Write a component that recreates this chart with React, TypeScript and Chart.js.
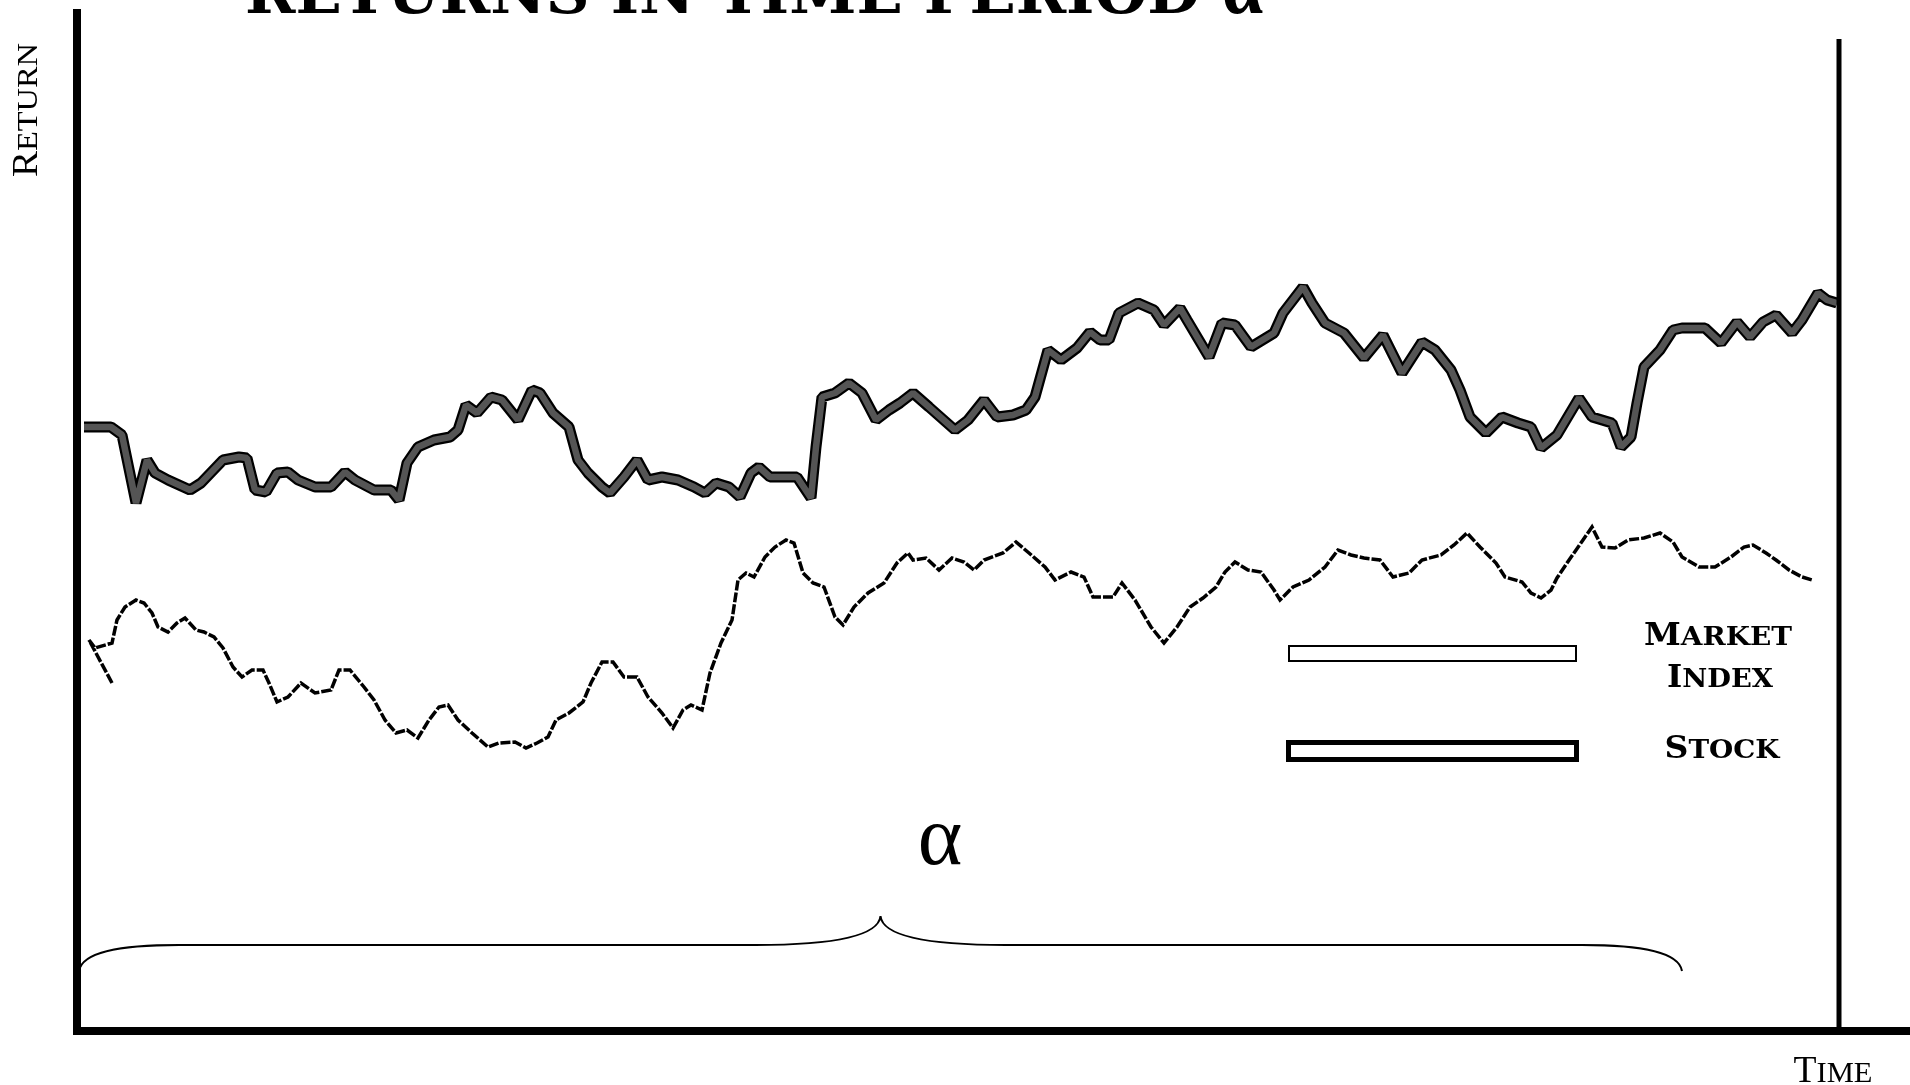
import React, { useEffect, useRef } from "react";
import { Chart, registerables } from "chart.js";

Chart.register(...registerables);

// ---------------- data ----------------
const stockTime = [
  0.7, 3.4, 4.5, 5.9, 7.0, 7.8, 9.1, 11.3, 12.4, 14.6,
  16.2, 17.0, 17.8, 18.9, 20.0, 21.1, 22.1, 23.8, 25.4, 26.8,
  27.8, 29.7, 31.4, 32.2, 33.0, 34.1, 35.7, 37.3, 38.1, 38.9,
  40.0, 41.4, 42.5, 44.1, 45.5, 46.3, 47.6, 49.2, 50.1, 51.1,
  52.5, 53.3, 54.7, 56.0, 57.1, 58.5, 60.1, 61.7, 62.8, 63.9,
  65.2, 66.3, 67.4, 68.2, 69.3, 70.9, 72.0, 73.4, 73.9, 74.5,
  75.8, 77.2, 78.5, 79.9, 81.2, 82.3, 83.6, 85.2, 87.8, 89.1,
  90.7, 92.0, 93.6, 94.9, 95.8, 97.1, 98.4, 100.0, 101.3, 102.3,
  103.2, 104.2, 106.1, 107.7, 108.7, 110.3, 111.0, 113.2, 114.5, 115.8,
  117.4, 119.7, 120.6, 122.6, 123.5, 124.8, 126.7, 128.7, 130.6, 132.5,
  134.5, 135.8, 137.4, 138.3, 139.3, 140.9, 142.5, 144.1, 145.4, 146.4,
  148.0, 150.2, 151.5, 153.5, 154.4, 155.4, 156.0, 156.7, 158.3, 159.6,
  160.5, 162.8, 164.4, 166.0, 167.3, 168.6, 169.9, 171.5, 172.5, 174.1,
  175.0, 176.0,
];
const stockReturn = [
  60.4, 60.4, 59.6, 52.8, 57.1, 55.8, 55.1, 54.1, 54.8, 57.1,
  57.4, 57.3, 54.1, 53.9, 55.8, 55.9, 55.1, 54.4, 54.4, 55.9,
  55.1, 54.1, 54.1, 53.1, 56.8, 58.4, 59.1, 59.4, 60.1, 62.6,
  61.8, 63.4, 63.1, 61.1, 64.1, 63.8, 61.8, 60.4, 57.1, 55.8,
  54.4, 53.8, 55.4, 57.1, 55.1, 55.4, 55.1, 54.4, 53.8, 54.8,
  54.4, 53.4, 55.8, 56.4, 55.4, 55.4, 55.4, 53.3, 58.4, 63.4,
  63.8, 64.8, 63.8, 61.1, 62.1, 62.8, 63.8, 62.4, 60.1, 61.1,
  63.1, 61.4, 61.6, 62.1, 63.4, 68.1, 67.1, 68.3, 69.9, 69.1,
  69.1, 71.8, 72.8, 72.1, 70.6, 72.3, 71.1, 67.4, 70.8, 70.6,
  68.4, 69.8, 71.8, 74.4, 72.8, 70.8, 69.8, 67.3, 69.6, 65.8,
  68.9, 68.1, 66.1, 64.1, 61.4, 59.8, 61.4, 60.8, 60.4, 58.3,
  59.6, 63.3, 61.4, 60.8, 58.4, 59.4, 62.8, 66.4, 68.1, 70.1,
  70.3, 70.3, 68.8, 70.9, 69.4, 70.9, 71.6, 69.8, 71.1, 73.8,
  73.1, 72.8,
];
const marketTime = [
  3.5, 1.2, 1.8, 3.5, 4.0, 4.8, 5.9, 6.7, 7.5, 8.1,
  9.1, 10.0, 10.8, 11.9, 12.7, 13.7, 14.6, 15.6, 16.5, 17.5,
  18.6, 19.2, 20.0, 21.1, 22.4, 23.8, 25.4, 26.2, 27.3, 28.7,
  29.7, 30.8, 31.9, 33.0, 34.1, 35.2, 36.2, 37.1, 38.1, 39.5,
  41.1, 42.2, 43.8, 44.9, 46.0, 47.1, 47.9, 49.2, 50.6, 51.4,
  52.5, 53.6, 54.7, 56.0, 57.1, 58.5, 59.6, 60.6, 61.4, 62.5,
  63.3, 64.4, 65.5, 66.1, 66.9, 67.7, 68.8, 69.8, 70.9, 71.7,
  72.6, 73.6, 74.7, 75.8, 76.6, 77.7, 79.1, 80.7, 82.0, 83.1,
  83.6, 84.9, 86.2, 87.5, 88.7, 89.7, 90.7, 92.6, 93.9, 95.2,
  96.8, 97.8, 99.4, 100.7, 101.6, 103.6, 104.5, 105.8, 107.4, 108.7,
  110.0, 111.3, 112.6, 113.9, 114.8, 115.8, 117.1, 118.4, 119.7, 120.3,
  121.6, 123.2, 124.8, 126.1, 127.4, 128.7, 130.3, 131.6, 133.2, 134.5,
  136.4, 137.7, 139.0, 140.3, 141.9, 142.8, 144.5, 145.4, 146.4, 147.4,
  148.0, 149.0, 150.6, 151.5, 152.5, 153.8, 155.1, 156.7, 158.3, 159.6,
  160.5, 162.2, 163.8, 165.4, 166.7, 167.6, 168.9, 169.9, 171.2, 172.5,
  173.5,
];
const marketReturn = [
  34.8, 39.1, 38.3, 38.8, 41.1, 42.4, 43.1, 42.8, 41.8, 40.4,
  39.9, 40.8, 41.3, 40.1, 39.9, 39.4, 38.3, 36.4, 35.4, 36.1,
  36.1, 34.8, 32.9, 33.4, 34.8, 33.8, 34.1, 36.1, 36.1, 34.4,
  33.1, 31.1, 29.8, 30.1, 29.3, 31.1, 32.4, 32.6, 31.1, 29.8,
  28.4, 28.8, 28.9, 28.3, 28.8, 29.4, 31.1, 31.8, 32.9, 34.8,
  36.9, 36.9, 35.4, 35.4, 33.4, 31.8, 30.3, 32.1, 32.6, 32.1,
  35.8, 38.8, 41.1, 45.1, 45.8, 45.4, 47.4, 48.4, 49.1, 48.8,
  45.8, 44.8, 44.4, 41.4, 40.6, 42.4, 43.8, 44.8, 46.8, 47.8,
  47.1, 47.3, 46.1, 47.3, 46.9, 46.1, 47.1, 47.8, 48.9, 47.8,
  46.4, 45.1, 45.9, 45.4, 43.4, 43.4, 44.8, 43.1, 40.4, 38.8,
  40.4, 42.4, 43.3, 44.4, 45.9, 46.9, 46.1, 45.9, 44.1, 43.1,
  44.4, 45.1, 46.4, 48.1, 47.6, 47.3, 47.1, 45.4, 45.8, 47.1,
  47.6, 48.6, 49.8, 48.4, 46.8, 45.4, 44.9, 43.8, 43.3, 44.1,
  45.3, 46.8, 49.1, 50.4, 48.4, 48.3, 49.1, 49.3, 49.8, 48.9,
  47.4, 46.4, 46.4, 47.4, 48.4, 48.6, 47.8, 47.1, 46.1, 45.4,
  45.1,
];

const stockLabel = "Stock";
const marketLabel = "Market Index";
const chartTitle = "Returns in Time Period";
const periodSymbol = "α";
const xAxisLabel = "Time";
const yAxisLabel = "Return";

// axis ranges (time units / return units)
const X_MIN = 0;
const X_MAX = 183.3;
const Y_MIN = 0;
const Y_MAX = 101.8;

// annotation anchors in data units
const periodStart = 0.2;
const periodEnd = 160.5;
const braceEndLevel = 6.0;
const braceBarLevel = 8.6;
const braceTipLevel = 11.5;
const symbolTime = 86.3;
const symbolLevel = 16.7;
const observationEnd = 176.2;
const observationTop = 99.2;

// ---------------- helpers ----------------
type SCOpts = {
  big: number;
  small: number;
  family: string;
  weight: string;
  width?: number;
  align?: "left" | "center";
};

function drawSmallCaps(ctx: CanvasRenderingContext2D, text: string, x: number, y: number, o: SCOpts) {
  const runs: { ch: string; big: boolean }[] = [];
  let wordStart = true;
  for (const ch of text) {
    if (ch === " ") {
      runs.push({ ch: " ", big: false });
      wordStart = true;
      continue;
    }
    const isUpper = ch === ch.toUpperCase() && ch !== ch.toLowerCase();
    runs.push({ ch: ch.toUpperCase(), big: wordStart && isUpper });
    wordStart = false;
  }
  const fontFor = (b: boolean) => `${o.weight} ${b ? o.big : o.small}px ${o.family}`;
  let total = 0;
  const widths = runs.map((r) => {
    ctx.font = fontFor(r.big);
    const w = ctx.measureText(r.ch).width;
    total += w;
    return w;
  });
  const sx = o.width ? o.width / total : 1;
  ctx.save();
  ctx.translate(x, y);
  ctx.scale(sx, 1);
  let cx = o.align === "center" ? -total / 2 : 0;
  ctx.textAlign = "left";
  ctx.textBaseline = "alphabetic";
  ctx.fillStyle = "#000";
  runs.forEach((r, i) => {
    ctx.font = fontFor(r.big);
    ctx.fillText(r.ch, cx, 0);
    cx += widths[i];
  });
  ctx.restore();
}

const decorPlugin = {
  id: "decor",
  afterDatasetsDraw(chart: any) {
    const { ctx } = chart;
    const xs = chart.scales.x;
    const ys = chart.scales.y;
    ctx.save();

    // right boundary of the observation window
    const rx = xs.getPixelForValue(observationEnd);
    ctx.strokeStyle = "#000";
    ctx.lineWidth = 5;
    ctx.beginPath();
    ctx.moveTo(rx, ys.getPixelForValue(observationTop));
    ctx.lineTo(rx, ys.getPixelForValue(Y_MIN));
    ctx.stroke();

    // curly brace spanning the period
    const xl = xs.getPixelForValue(periodStart);
    const xr = xs.getPixelForValue(periodEnd);
    const xm = (xl + xr) / 2;
    const yEnd = ys.getPixelForValue(braceEndLevel);
    const yBar = ys.getPixelForValue(braceBarLevel);
    const yTip = ys.getPixelForValue(braceTipLevel);
    ctx.lineWidth = 2;
    ctx.beginPath();
    ctx.moveTo(xl, yEnd);
    ctx.bezierCurveTo(xl + 3, yBar + 7, xl + 40, yBar, xl + 100, yBar);
    ctx.lineTo(xm - 125, yBar);
    ctx.bezierCurveTo(xm - 50, yBar, xm - 2, yBar - 8, xm, yTip);
    ctx.bezierCurveTo(xm + 2, yBar - 8, xm + 50, yBar, xm + 125, yBar);
    ctx.lineTo(xr - 100, yBar);
    ctx.bezierCurveTo(xr - 40, yBar, xr - 3, yBar + 7, xr, yEnd);
    ctx.stroke();

    // period symbol
    ctx.fillStyle = "#000";
    ctx.font = '85px "Liberation Serif"';
    ctx.textAlign = "center";
    ctx.textBaseline = "alphabetic";
    ctx.fillText(periodSymbol, xs.getPixelForValue(symbolTime), ys.getPixelForValue(symbolLevel));

    // title (cropped at the top of the picture)
    drawSmallCaps(ctx, chartTitle, 245, 13, {
      big: 58, small: 58, family: '"DejaVu Serif"', weight: "bold", width: 955, align: "left",
    });
    ctx.font = 'bold 74px "Liberation Serif"';
    ctx.textAlign = "left";
    ctx.fillText(periodSymbol, 1222, 13);

    // axis labels
    ctx.save();
    ctx.translate(37, 110);
    ctx.rotate(-Math.PI / 2);
    drawSmallCaps(ctx, yAxisLabel, 0, 0, {
      big: 36, small: 30, family: '"Liberation Serif"', weight: "normal", width: 134, align: "center",
    });
    ctx.restore();
    drawSmallCaps(ctx, xAxisLabel, 1833, 1082, {
      big: 37, small: 30, family: '"Liberation Serif"', weight: "normal", width: 79, align: "center",
    });

    // legend
    ctx.strokeStyle = "#000";
    ctx.fillStyle = "#fff";
    ctx.lineWidth = 2;
    ctx.fillRect(1289, 646, 287, 15);
    ctx.strokeRect(1289, 646, 287, 15);
    ctx.lineWidth = 5;
    ctx.fillRect(1288.5, 742.5, 288, 17);
    ctx.strokeRect(1288.5, 742.5, 288, 17);
    const [mw1, mw2] = marketLabel.split(" ");
    const lg = { big: 31, small: 26, family: '"DejaVu Serif"', weight: "bold", align: "center" as const };
    drawSmallCaps(ctx, mw1, 1718, 645, { ...lg, width: 148 });
    drawSmallCaps(ctx, mw2, 1720, 687, { ...lg, width: 106 });
    drawSmallCaps(ctx, stockLabel, 1722, 758, { ...lg, width: 115 });

    ctx.restore();
  },
};

export default function App() {
  const ref = useRef<HTMLCanvasElement | null>(null);

  useEffect(() => {
    const canvas = ref.current;
    if (!canvas) return;
    const stockPts = stockTime.map((t, i) => ({ x: t, y: stockReturn[i] }));
    const marketPts = marketTime.map((t, i) => ({ x: t, y: marketReturn[i] }));
    const chart = new Chart(canvas, {
      type: "line",
      data: {
        datasets: [
          {
            label: stockLabel,
            data: stockPts,
            borderColor: "#555555",
            borderWidth: 6.5,
            pointRadius: 0,
            tension: 0,
            borderJoinStyle: "bevel",
            fill: false,
          },
          {
            label: stockLabel + " outline",
            data: stockPts,
            borderColor: "#000000",
            borderWidth: 11,
            pointRadius: 0,
            tension: 0,
            borderJoinStyle: "bevel",
            fill: false,
          },
          {
            label: marketLabel,
            data: marketPts,
            borderColor: "#000000",
            borderWidth: 3.5,
            borderDash: [10, 2],
            pointRadius: 0,
            tension: 0,
            fill: false,
          },
        ],
      },
      options: {
        responsive: false,
        animation: false,
        events: [],
        layout: { padding: { left: 77, right: 0, top: 13, bottom: 54 } },
        plugins: {
          legend: { display: false },
          title: { display: false },
          tooltip: { enabled: false },
        },
        scales: {
          x: {
            type: "linear",
            min: X_MIN,
            max: X_MAX,
            ticks: { display: false },
            grid: { display: false, drawTicks: false },
            border: { display: true, color: "#000", width: 8 },
          },
          y: {
            type: "linear",
            min: Y_MIN,
            max: Y_MAX,
            ticks: { display: false },
            grid: { display: false, drawTicks: false },
            border: { display: true, color: "#000", width: 8 },
          },
        },
      },
      plugins: [decorPlugin],
    } as any);
    return () => chart.destroy();
  }, []);

  return (
    <div style={{ position: "fixed", left: 0, top: 0, width: 1910, height: 1085, background: "#fff" }}>
      <canvas ref={ref} width={1910} height={1085} style={{ display: "block", width: 1910, height: 1085 }} />
    </div>
  );
}
